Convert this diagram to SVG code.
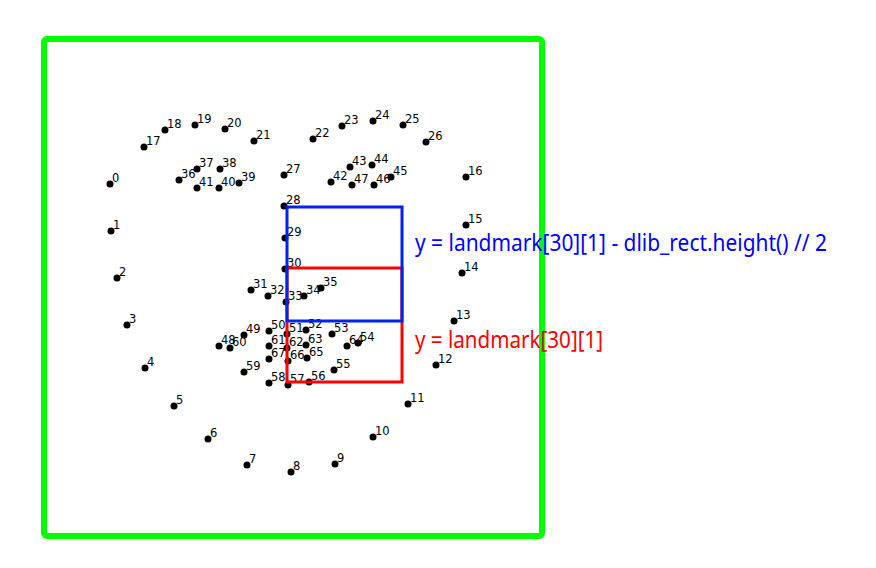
<svg xmlns="http://www.w3.org/2000/svg" width="876" height="568" viewBox="0 0 876 568">
<style>
.pt circle{fill:#000}
.pt text{font-family:"DejaVu Sans",sans-serif;font-size:11.5px;fill:#000}
.lbl{font-family:"Noto Sans","DejaVu Sans",sans-serif;font-size:23px}
</style>
<rect width="876" height="568" fill="#fff"/>
<g id="face-box"><rect x="44" y="39" width="498" height="497" rx="3" fill="none" stroke="#00ff00" stroke-width="6"/></g>
<g id="landmarks" class="pt">
<g id="p0"><circle cx="110" cy="184" r="3.5"/><text x="112" y="182">0</text></g>
<g id="p1"><circle cx="111" cy="231" r="3.5"/><text x="113" y="229">1</text></g>
<g id="p2"><circle cx="117" cy="278" r="3.5"/><text x="119" y="276">2</text></g>
<g id="p3"><circle cx="127" cy="325" r="3.5"/><text x="129" y="323">3</text></g>
<g id="p4"><circle cx="145" cy="368" r="3.5"/><text x="147" y="366">4</text></g>
<g id="p5"><circle cx="174" cy="406" r="3.5"/><text x="176" y="404">5</text></g>
<g id="p6"><circle cx="208" cy="439" r="3.5"/><text x="210" y="437">6</text></g>
<g id="p7"><circle cx="247" cy="465" r="3.5"/><text x="249" y="463">7</text></g>
<g id="p8"><circle cx="291" cy="472" r="3.5"/><text x="293" y="470">8</text></g>
<g id="p9"><circle cx="335" cy="464" r="3.5"/><text x="337" y="462">9</text></g>
<g id="p10"><circle cx="373" cy="437" r="3.5"/><text x="375" y="435">10</text></g>
<g id="p11"><circle cx="408" cy="404" r="3.5"/><text x="410" y="402">11</text></g>
<g id="p12"><circle cx="436" cy="365" r="3.5"/><text x="438" y="363">12</text></g>
<g id="p13"><circle cx="454" cy="321" r="3.5"/><text x="456" y="319">13</text></g>
<g id="p14"><circle cx="462" cy="273" r="3.5"/><text x="464" y="271">14</text></g>
<g id="p15"><circle cx="466" cy="225" r="3.5"/><text x="468" y="223">15</text></g>
<g id="p16"><circle cx="466" cy="177" r="3.5"/><text x="468" y="175">16</text></g>
<g id="p17"><circle cx="144" cy="147" r="3.5"/><text x="146" y="145">17</text></g>
<g id="p18"><circle cx="165" cy="130" r="3.5"/><text x="167" y="128">18</text></g>
<g id="p19"><circle cx="195" cy="125" r="3.5"/><text x="197" y="123">19</text></g>
<g id="p20"><circle cx="225" cy="129" r="3.5"/><text x="227" y="127">20</text></g>
<g id="p21"><circle cx="254" cy="141" r="3.5"/><text x="256" y="139">21</text></g>
<g id="p22"><circle cx="313" cy="139" r="3.5"/><text x="315" y="137">22</text></g>
<g id="p23"><circle cx="342" cy="126" r="3.5"/><text x="344" y="124">23</text></g>
<g id="p24"><circle cx="373" cy="121" r="3.5"/><text x="375" y="119">24</text></g>
<g id="p25"><circle cx="403" cy="125" r="3.5"/><text x="405" y="123">25</text></g>
<g id="p26"><circle cx="426" cy="142" r="3.5"/><text x="428" y="140">26</text></g>
<g id="p27"><circle cx="284" cy="175" r="3.5"/><text x="286" y="173">27</text></g>
<g id="p28"><circle cx="284" cy="206" r="3.5"/><text x="286" y="204">28</text></g>
<g id="p29"><circle cx="285" cy="238" r="3.5"/><text x="287" y="236">29</text></g>
<g id="p30"><circle cx="285" cy="269" r="3.5"/><text x="287" y="267">30</text></g>
<g id="p31"><circle cx="251" cy="290" r="3.5"/><text x="253" y="288">31</text></g>
<g id="p32"><circle cx="268" cy="296" r="3.5"/><text x="270" y="294">32</text></g>
<g id="p33"><circle cx="286" cy="302" r="3.5"/><text x="288" y="300">33</text></g>
<g id="p34"><circle cx="304" cy="296" r="3.5"/><text x="306" y="294">34</text></g>
<g id="p35"><circle cx="321" cy="288" r="3.5"/><text x="323" y="286">35</text></g>
<g id="p36"><circle cx="179" cy="180" r="3.5"/><text x="181" y="178">36</text></g>
<g id="p37"><circle cx="197" cy="169" r="3.5"/><text x="199" y="167">37</text></g>
<g id="p38"><circle cx="220" cy="169" r="3.5"/><text x="222" y="167">38</text></g>
<g id="p39"><circle cx="239" cy="183" r="3.5"/><text x="241" y="181">39</text></g>
<g id="p40"><circle cx="219" cy="188" r="3.5"/><text x="221" y="186">40</text></g>
<g id="p41"><circle cx="197" cy="188" r="3.5"/><text x="199" y="186">41</text></g>
<g id="p42"><circle cx="331" cy="182" r="3.5"/><text x="333" y="180">42</text></g>
<g id="p43"><circle cx="350" cy="167" r="3.5"/><text x="352" y="165">43</text></g>
<g id="p44"><circle cx="372" cy="165" r="3.5"/><text x="374" y="163">44</text></g>
<g id="p45"><circle cx="391" cy="177" r="3.5"/><text x="393" y="175">45</text></g>
<g id="p46"><circle cx="374" cy="185" r="3.5"/><text x="376" y="183">46</text></g>
<g id="p47"><circle cx="352" cy="185" r="3.5"/><text x="354" y="183">47</text></g>
<g id="p48"><circle cx="219" cy="346" r="3.5"/><text x="221" y="344">48</text></g>
<g id="p49"><circle cx="244" cy="335" r="3.5"/><text x="246" y="333">49</text></g>
<g id="p50"><circle cx="269" cy="331" r="3.5"/><text x="271" y="329">50</text></g>
<g id="p51"><circle cx="287" cy="334" r="3.5"/><text x="289" y="332">51</text></g>
<g id="p52"><circle cx="306" cy="330" r="3.5"/><text x="308" y="328">52</text></g>
<g id="p53"><circle cx="332" cy="334" r="3.5"/><text x="334" y="332">53</text></g>
<g id="p54"><circle cx="358" cy="343" r="3.5"/><text x="360" y="341">54</text></g>
<g id="p55"><circle cx="334" cy="370" r="3.5"/><text x="336" y="368">55</text></g>
<g id="p56"><circle cx="309" cy="382" r="3.5"/><text x="311" y="380">56</text></g>
<g id="p57"><circle cx="288" cy="385" r="3.5"/><text x="290" y="383">57</text></g>
<g id="p58"><circle cx="269" cy="383" r="3.5"/><text x="271" y="381">58</text></g>
<g id="p59"><circle cx="244" cy="372" r="3.5"/><text x="246" y="370">59</text></g>
<g id="p60"><circle cx="230" cy="348" r="3.5"/><text x="232" y="346">60</text></g>
<g id="p61"><circle cx="269" cy="346" r="3.5"/><text x="271" y="344">61</text></g>
<g id="p62"><circle cx="287" cy="348" r="3.5"/><text x="289" y="346">62</text></g>
<g id="p63"><circle cx="306" cy="345" r="3.5"/><text x="308" y="343">63</text></g>
<g id="p64"><circle cx="347" cy="346" r="3.5"/><text x="349" y="344">64</text></g>
<g id="p65"><circle cx="307" cy="358" r="3.5"/><text x="309" y="356">65</text></g>
<g id="p66"><circle cx="288" cy="361" r="3.5"/><text x="290" y="359">66</text></g>
<g id="p67"><circle cx="269" cy="359" r="3.5"/><text x="271" y="357">67</text></g>
</g>
<g id="red-rect"><rect x="287" y="268" width="115" height="114" fill="none" stroke="#ff0000" stroke-width="3"/></g>
<g id="blue-rect"><rect x="287" y="207" width="115" height="114" fill="none" stroke="#0022ee" stroke-width="3"/></g>
<g id="labels">
<text class="lbl" x="415" y="251" fill="#0000ff" textLength="412" lengthAdjust="spacingAndGlyphs">y = landmark[30][1] - dlib_rect.height() // 2</text>
<text class="lbl" x="415" y="348" fill="#ff0000" textLength="188" lengthAdjust="spacingAndGlyphs">y = landmark[30][1]</text>
</g>
</svg>
